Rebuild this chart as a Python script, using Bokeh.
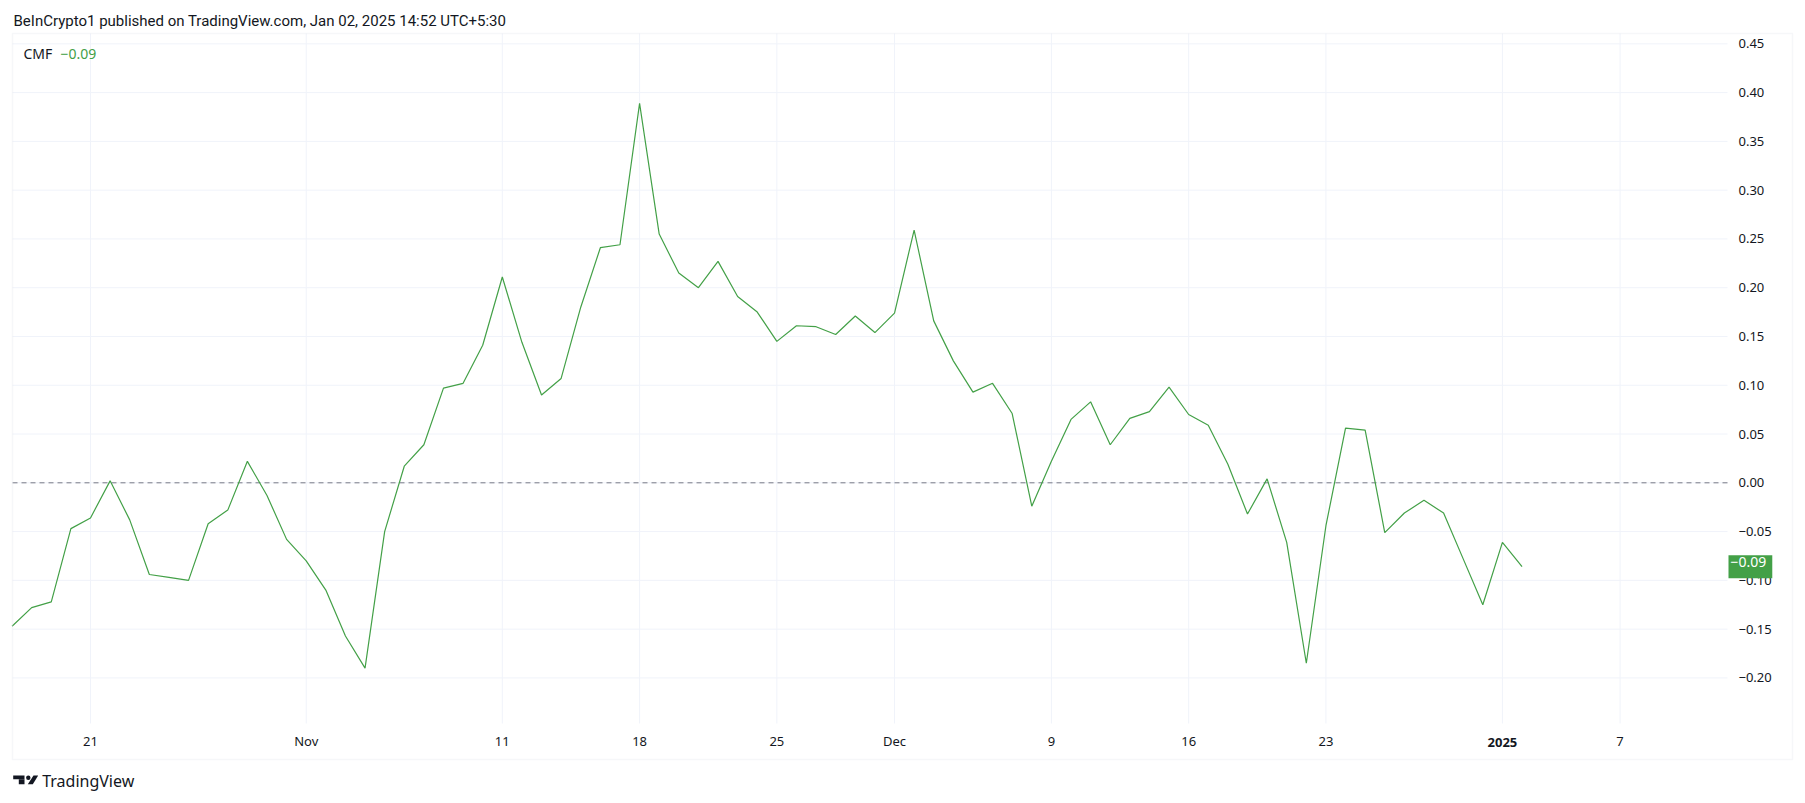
import pandas as pd
from bokeh.plotting import figure
from bokeh.models import Range1d, FixedTicker, Label, BoxAnnotation, PolyAnnotation
from bokeh.embed import file_html
from bokeh.resources import INLINE

# ---------------- data ----------------
start_date = "2024-10-17"
cmf = [-0.147, -0.128, -0.122, -0.047, -0.036, 0.002, -0.038, -0.094, -0.097, -0.100,
       -0.042, -0.028, 0.022, -0.013, -0.058, -0.080, -0.110, -0.157, -0.190, -0.050,
       0.017, 0.039, 0.097, 0.102, 0.141, 0.211, 0.144, 0.090, 0.107, 0.180,
       0.241, 0.244, 0.389, 0.255, 0.215, 0.200, 0.227, 0.191, 0.175, 0.145,
       0.161, 0.160, 0.152, 0.171, 0.154, 0.174, 0.259, 0.166, 0.125, 0.093,
       0.102, 0.071, -0.024, 0.022, 0.065, 0.083, 0.039, 0.066, 0.073, 0.098,
       0.070, 0.059, 0.019, -0.032, 0.004, -0.061, -0.185, -0.044, 0.056, 0.054,
       -0.051, -0.031, -0.018, -0.031, -0.078, -0.125, -0.061, -0.086]

tick_dates = ["2024-10-21", "2024-11-01", "2024-11-11", "2024-11-18", "2024-11-25",
              "2024-12-01", "2024-12-09", "2024-12-16", "2024-12-23", "2025-01-01",
              "2025-01-07"]
tick_labels = ["21", "Nov", "11", "18", "25", "Dec", "9", "16", "23", "2025", "7"]
bold_tick = "2025"

y_ticks = [-0.20, -0.15, -0.10, -0.05, 0.00, 0.05, 0.10, 0.15, 0.20, 0.25, 0.30, 0.35, 0.40, 0.45]

title_text = "BeInCrypto1 published on TradingView.com, Jan 02, 2025 14:52 UTC+5:30"
indicator_name = "CMF"

# ---------------- derived ----------------
origin = pd.Timestamp(start_date)
dates = pd.date_range(start_date, periods=len(cmf), freq="D")
days = [(d - origin).days for d in dates]
tick_pos = [(pd.Timestamp(t) - origin).days for t in tick_dates]


def fmt(v):
    s = f"{abs(v):.2f}"
    return ("\u2212" + s) if v < -1e-12 else s


GREEN = "#43a047"
TEXT = "#131722"
GRID = "#f0f3fa"
BORDER = "#e0e3eb"
FONT = "Noto Sans"

# ---------------- layout (pixels) ----------------
W, H = 1800, 800
FIRST_PX, PX_PER_DAY = 11.56, 19.61      # x pixel of first date, pixels per day
ZERO_PY, PX_PER_UNIT = 482.3, 975.5      # y pixel of value 0, pixels per unit
PANE_L, PANE_R, PANE_T, PANE_B = 12, 1727, 33, 723
BOX_R, BOX_B = 1792, 759


def x_at(px):
    return (px - FIRST_PX) / PX_PER_DAY


def y_at(py):
    return (ZERO_PY - py) / PX_PER_UNIT


p = figure(width=W, height=H, output_backend="svg", toolbar_location=None,
           x_range=Range1d(x_at(0), x_at(W)), y_range=Range1d(y_at(H), y_at(0)),
           y_axis_location="right", min_border=0,
           min_border_left=0, min_border_right=0, min_border_top=0, min_border_bottom=0)
p.outline_line_color = None
p.background_fill_color = "white"
p.border_fill_color = "white"
p.xgrid.visible = False
p.ygrid.visible = False

# axes, pinned to the pane edges
p.xaxis.ticker = FixedTicker(ticks=tick_pos)
p.xaxis.major_label_overrides = {t: ("" if l == bold_tick else l) for t, l in zip(tick_pos, tick_labels)}
p.xaxis.fixed_location = y_at(PANE_B)
p.yaxis.ticker = FixedTicker(ticks=y_ticks)
p.yaxis.major_label_overrides = {t: fmt(t) for t in y_ticks}
p.yaxis.fixed_location = x_at(PANE_R)
for ax in (p.xaxis[0], p.yaxis[0]):
    ax.axis_line_color = None
    ax.major_tick_line_color = None
    ax.minor_tick_line_color = None
    ax.major_tick_out = 0
    ax.major_tick_in = 0
    ax.minor_tick_out = 0
    ax.minor_tick_in = 0
    ax.major_label_text_font = FONT
    ax.major_label_text_color = TEXT
p.xaxis.major_label_text_font_size = "13px"
p.xaxis.major_label_standoff = 8
p.yaxis.major_label_text_font_size = "13px"
p.yaxis.major_label_standoff = 11

# grid lines inside the pane
p.segment(x0=tick_pos, x1=tick_pos, y0=[y_at(PANE_B)] * len(tick_pos), y1=[y_at(PANE_T)] * len(tick_pos),
          line_color=GRID, line_width=1)
p.segment(x0=[x_at(PANE_L)] * len(y_ticks), x1=[x_at(PANE_R)] * len(y_ticks), y0=y_ticks, y1=y_ticks,
          line_color=GRID, line_width=1)

# zero line
p.segment(x0=[x_at(PANE_L)], x1=[x_at(PANE_R)], y0=[0], y1=[0], line_color="#787b86",
          line_dash="5 4", line_width=1)

# series
p.line(days, cmf, line_color=GREEN, line_width=1.2)

# outer border
p.add_layout(BoxAnnotation(left=PANE_L, right=BOX_R, top=H - PANE_T, bottom=H - BOX_B,
                           left_units="screen", right_units="screen",
                           top_units="screen", bottom_units="screen",
                           fill_alpha=0, line_color=BORDER, line_width=1.5))

# bold year tick
for t, l in zip(tick_pos, tick_labels):
    if l == bold_tick:
        p.add_layout(Label(x=t, y=H - 742, x_units="data", y_units="screen", text=l,
                           text_align="center", text_baseline="middle",
                           text_font=FONT, text_font_size="13px", text_font_style="bold",
                           text_color=TEXT))

# title
p.add_layout(Label(x=13, y=H - 20, x_units="screen", y_units="screen", text=title_text,
                   text_baseline="middle", text_font="Roboto", text_font_size="15px",
                   text_color=TEXT))

# legend
p.add_layout(Label(x=23, y=H - 53, x_units="screen", y_units="screen", text=indicator_name,
                   text_baseline="middle", text_font=FONT, text_font_size="14px",
                   text_color=TEXT))
p.add_layout(Label(x=60, y=H - 53, x_units="screen", y_units="screen", text=fmt(cmf[-1]),
                   text_baseline="middle", text_font=FONT, text_font_size="14px",
                   text_color=GREEN))

# last value tag on price scale
p.add_layout(Label(x=1728, y=cmf[-1], x_units="screen", y_units="data", text=fmt(cmf[-1]),
                   text_baseline="middle", text_font=FONT, text_font_size="14px",
                   text_color="white", background_fill_color=GREEN,
                   padding=(2, 6, 2, 11)))


# TradingView logo
def box(l, r, t, b, **kw):
    return BoxAnnotation(left=l, right=r, top=H - t, bottom=H - b,
                         left_units="screen", right_units="screen",
                         top_units="screen", bottom_units="screen",
                         fill_color=TEXT, fill_alpha=1, line_color=None, **kw)


p.add_layout(box(12.7, 24, 775, 778.7))
p.add_layout(box(18.3, 24, 778.7, 783.7))
p.add_layout(box(25.6, 30, 775, 779.4, border_radius=3))
p.add_layout(PolyAnnotation(xs=[27.3, 32.3, 37.7, 33.0],
                            ys=[H - 783.7, H - 783.7, H - 775, H - 775],
                            xs_units="screen", ys_units="screen",
                            fill_color=TEXT, fill_alpha=1, line_color=None))
p.add_layout(Label(x=41.7, y=H - 780, x_units="screen", y_units="screen", text="TradingView",
                   text_baseline="middle", text_font=FONT, text_font_size="16px",
                   text_color=TEXT))

open("out.html", "w").write(file_html(p, INLINE))
